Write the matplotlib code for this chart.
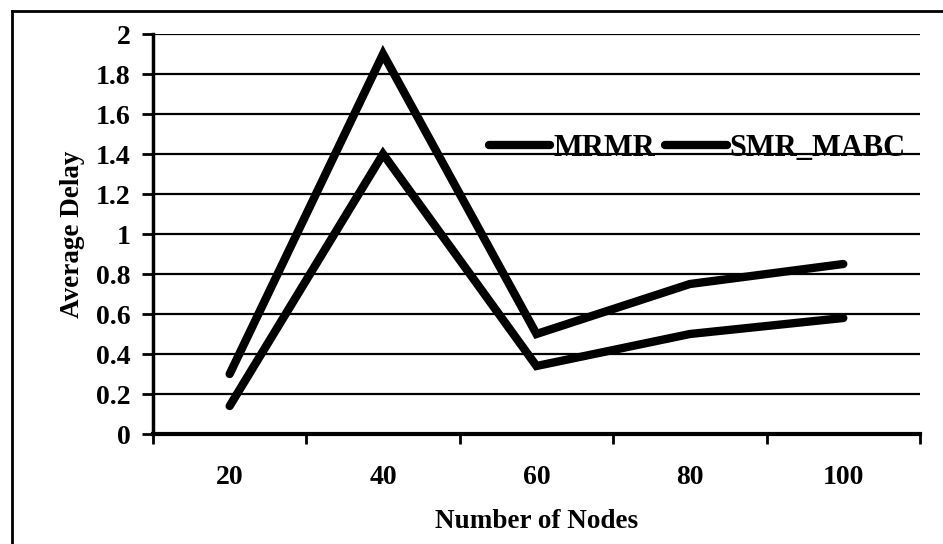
import matplotlib.pyplot as plt
from matplotlib.lines import Line2D

# dados
nodes = ['20', '40', '60', '80', '100']
mrmr = [0.30, 1.90, 0.50, 0.75, 0.85]
smr_mabc = [0.14, 1.40, 0.34, 0.50, 0.58]

plt.rcParams['font.family'] = ['Liberation Serif', 'DejaVu Serif']
plt.rcParams['font.weight'] = 'bold'
plt.rcParams['axes.labelweight'] = 'bold'

fig = plt.figure(figsize=(9.43, 5.44), dpi=100)
ax = fig.add_axes([0.1622, 0.2022, 0.8134, 0.7353])

x = range(len(nodes))
ax.plot(x, mrmr, color='black', lw=6, solid_capstyle='round', solid_joinstyle='miter', label='MRMR')
ax.plot(x, smr_mabc, color='black', lw=6, solid_capstyle='round', solid_joinstyle='miter', label='SMR_MABC')

ax.set_xlim(-0.5, len(nodes) - 0.5)
ax.set_ylim(0, 2)
ax.set_yticks([i * 0.2 for i in range(11)])
ax.set_yticklabels(['0', '0.2', '0.4', '0.6', '0.8', '1', '1.2', '1.4', '1.6', '1.8', '2'])
ax.set_xticks(list(x))
ax.set_xticklabels(nodes)
ax.set_xticks([i - 0.5 for i in range(len(nodes) + 1)], minor=True)
ax.tick_params(axis='x', which='major', length=0, pad=22, labelsize=20)
ax.tick_params(axis='x', which='minor', length=7, width=2, direction='out')
ax.tick_params(axis='y', length=8, width=2, direction='out', pad=8, labelsize=20)

ax.grid(axis='y', color='black', lw=1.6)
ax.set_axisbelow(True)
for s in ['top', 'right']:
    ax.spines[s].set_visible(False)
ax.spines['left'].set_linewidth(2.5)
ax.spines['bottom'].set_linewidth(3)

ax.set_xlabel('Number of Nodes', fontsize=19.5, labelpad=14)
ax.set_ylabel('Average Delay', fontsize=19.5, labelpad=8)

ax.legend(ncol=2, frameon=False, fontsize=22, loc='center left',
          bbox_to_anchor=(0.418, 0.715), handlelength=2.0, handletextpad=0.1,
          columnspacing=0.35, borderpad=0)

# moldura (so topo e esquerda visiveis)
fig.add_artist(Line2D([12 / 943, 12 / 943], [0, 1 - 11 / 544], color='black', lw=2))
fig.add_artist(Line2D([12 / 943, 1], [1 - 11 / 544, 1 - 11 / 544], color='black', lw=2))

fig.savefig('out.png', dpi=100)
